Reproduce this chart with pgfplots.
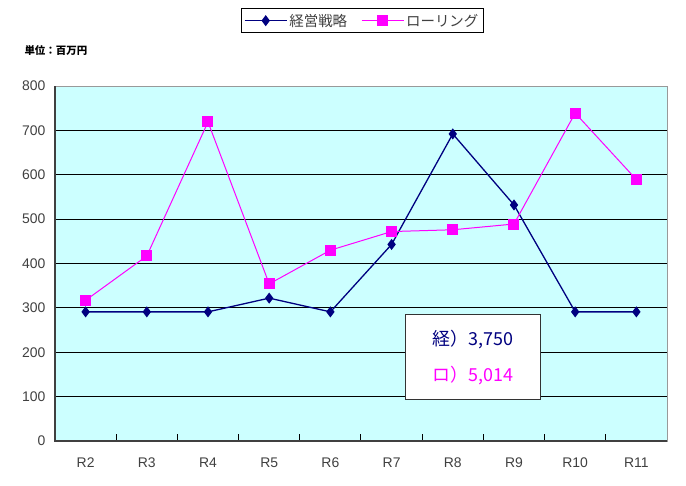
\documentclass[border=0pt]{standalone}
\usepackage{fontspec}
\setmainfont{Liberation Sans}
\newfontfamily\cjk{Noto Sans CJK JP}
\usepackage{pgfplots}
\pgfplotsset{compat=1.18}
\definecolor{navyc}{HTML}{000080}
\definecolor{magc}{HTML}{FF00FF}
\definecolor{bgc}{HTML}{CCFFFF}
\begin{document}
\begin{tikzpicture}[x=1bp,y=1bp]
\useasboundingbox (-55bp,-45bp) rectangle (631bp,441bp);
\begin{axis}[
  at={(0,0)}, anchor=south west,
  scale only axis, width=612bp, height=355bp,
  xmin=-0.5, xmax=9.5, ymin=0, ymax=800,
  xtick={0,...,9},
  xticklabels={R2,R3,R4,R5,R6,R7,R8,R9,R10,R11},
  ytick={0,100,...,800},
  major tick length=0pt,
  extra x ticks={0.5,1.5,...,8.5},
  extra x tick labels={},
  extra x tick style={major tick length=7bp, tick align=inside, tick pos=bottom, grid=none, tick style={black, line width=1bp}},
  ymajorgrids,
  grid style={black, line width=0.9bp},
  axis line style={draw=gray!80, line width=0.8bp},
  axis background/.style={fill=bgc},
  tick label style={font=\fontsize{14}{16}\selectfont, text=black!75},
  /pgf/number format/assume math mode=true,
  xticklabel style={yshift=-13bp},
  yticklabel style={xshift=-6bp},
  legend style={at={(0.502,1.184)}, anchor=center, legend columns=2, draw=black, line width=0.8bp,
    font=\cjk\fontsize{14.5}{16}\selectfont, text=black!75, inner xsep=3bp, inner ysep=3bp,
    /tikz/every even column/.append style={column sep=12bp}},
  legend image code/.code={\draw[mark repeat=2,mark phase=2] plot coordinates {(0bp,0bp) (21bp,0bp) (42bp,0bp)};},
  clip=false,
]
\addplot[navyc, line width=1.3bp, mark=diamond*, mark size=4.5bp, mark options={solid, fill=navyc}]
  coordinates {(0,291) (1,291) (2,291) (3,322) (4,291) (5,443) (6,692) (7,532) (8,291) (9,291)};
\addlegendentry{経営戦略}
\addplot[magc, line width=1bp, mark=square*, mark size=5bp, mark options={solid, fill=magc}]
  coordinates {(0,317) (1,417) (2,719) (3,354) (4,430) (5,472) (6,476) (7,489) (8,739) (9,589)};
\addlegendentry{ローリング}
\draw[black!75, line width=2bp] (rel axis cs:0,1) -- (rel axis cs:0,0) -- (rel axis cs:1,0);
\node[draw=black!80, fill=white, line width=1.2bp, minimum width=135bp, minimum height=85bp, anchor=south west, inner sep=0pt] (tb) at (rel axis cs:0.5719,0.1155) {};
\node[text=navyc, font=\cjk\fontsize{18}{20}\selectfont, anchor=center] at ([yshift=17bp]tb.center) {経）3,750};
\node[text=magc, font=\cjk\fontsize{18}{20}\selectfont, anchor=center] at ([yshift=-19bp]tb.center) {ロ）5,014};
\end{axis}
\node[anchor=west, font=\cjk\bfseries\fontsize{10.5}{12}\selectfont] at (-34bp,391bp) {単位：百万円};
\end{tikzpicture}
\end{document}
